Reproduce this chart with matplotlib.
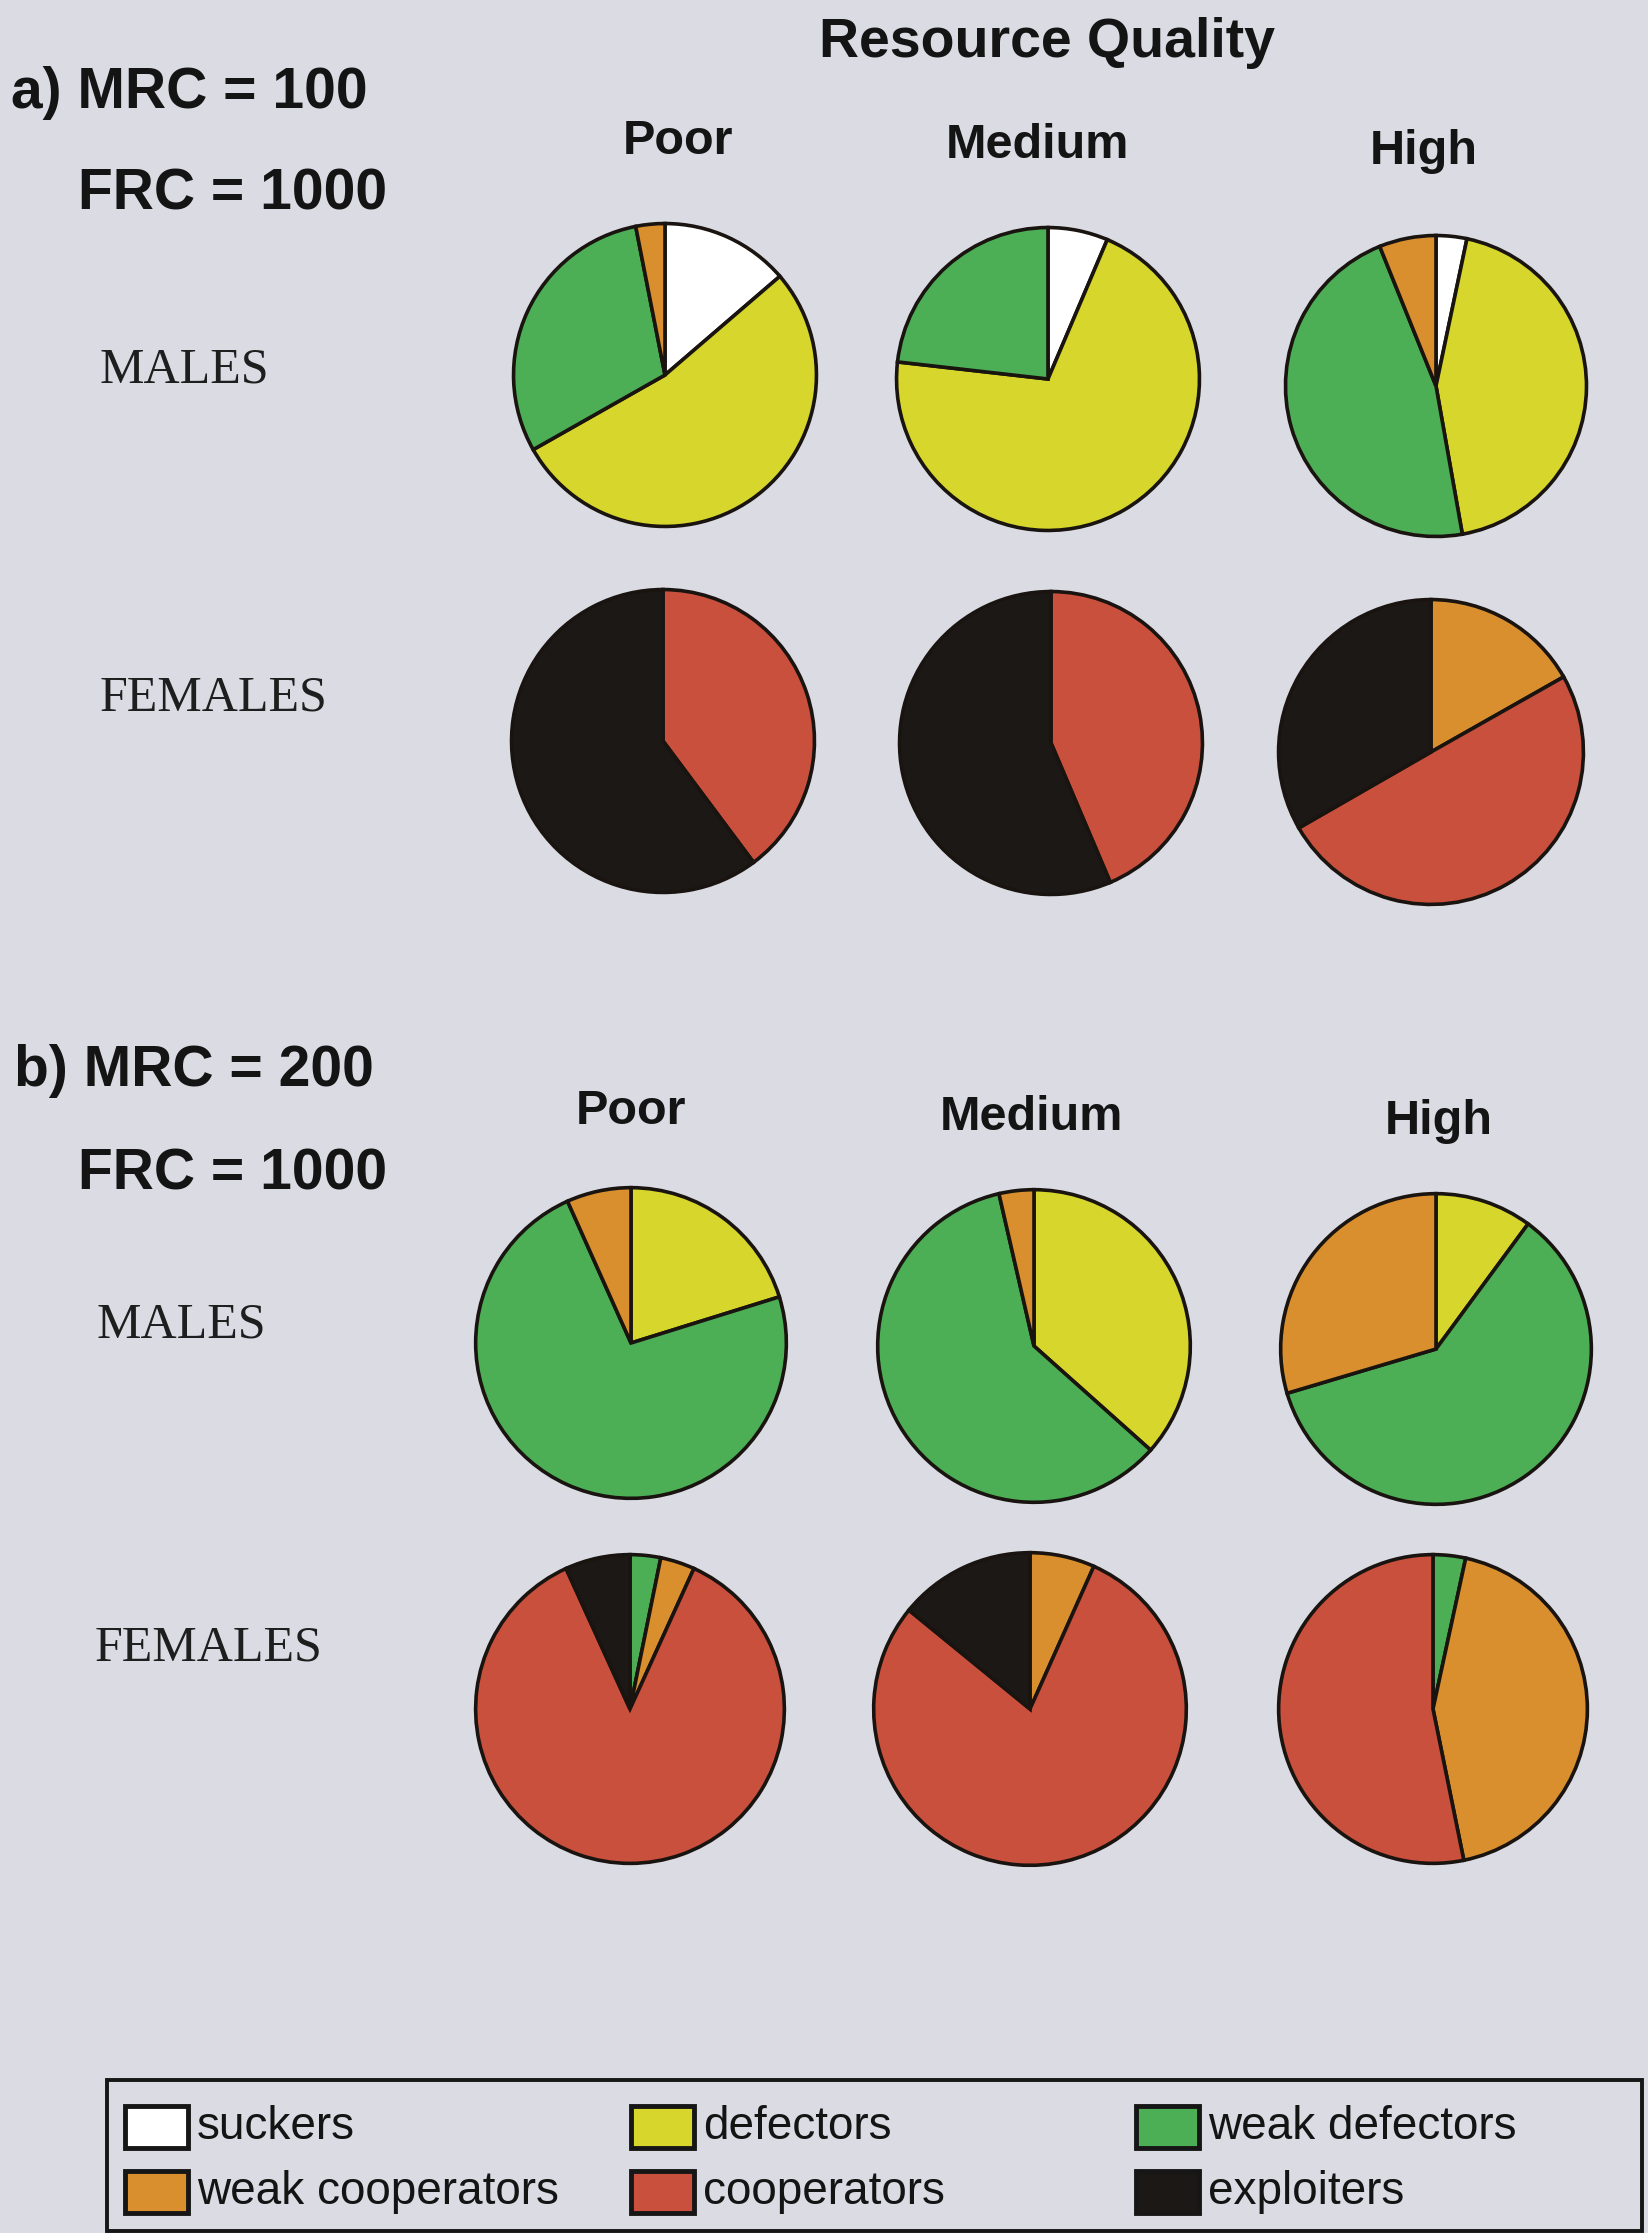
import matplotlib

matplotlib.use("Agg")
from matplotlib import pyplot as plt
from matplotlib.patches import Rectangle

W, H = 1648, 2233

categories = ["suckers", "defectors", "weak defectors",
              "weak cooperators", "cooperators", "exploiters"]
colors = ["#ffffff", "#d6d62c", "#4caf55", "#d98f2e", "#c9503c", "#1c1816"]

quality_labels = ["Poor", "Medium", "High"]

# shares (%) per category, in the order of `categories`
a_males_poor = [13.7, 53.1, 30.1, 3.1, 0, 0]
a_males_medium = [6.4, 70.4, 23.2, 0, 0, 0]
a_males_high = [3.3, 43.9, 46.7, 6.1, 0, 0]
a_females_poor = [0, 0, 0, 0, 39.8, 60.2]
a_females_medium = [0, 0, 0, 0, 43.6, 56.4]
a_females_high = [0, 0, 0, 16.8, 49.9, 33.3]

b_males_poor = [0, 20.2, 73.1, 6.7, 0, 0]
b_males_medium = [0, 36.6, 59.8, 3.6, 0, 0]
b_males_high = [0, 10.1, 60.3, 29.6, 0, 0]
b_females_poor = [0, 0, 3.2, 3.6, 86.4, 6.8]
b_females_medium = [0, 0, 0, 6.7, 79.2, 14.1]
b_females_high = [0, 0, 3.4, 43.4, 53.2, 0]

fig = plt.figure(figsize=(W / 100, H / 100), dpi=100, facecolor="#dadbe3")
bg = fig.add_axes([0, 0, 1, 1])
bg.set_xlim(0, W)
bg.set_ylim(H, 0)
bg.axis("off")

bold = dict(family="Liberation Sans", fontweight="bold", color="#141414")
serif = dict(family="Liberation Serif", color="#1e1e1e")


def draw_pie(values, cx, cy, r):
    ax = fig.add_axes([(cx - r) / W, 1 - (cy + r) / H, 2 * r / W, 2 * r / H])
    keep = [(v, c) for v, c in zip(values, colors) if v > 0]
    ax.pie([v for v, _ in keep], colors=[c for _, c in keep],
           startangle=90, counterclock=False, radius=1,
           wedgeprops=dict(edgecolor="#1a1410", linewidth=2.6))
    ax.set_xlim(-1.03, 1.03)
    ax.set_ylim(-1.03, 1.03)
    ax.axis("off")


# panel a
bg.text(1047, 43, "Resource Quality", ha="center", va="center", fontsize=40, **bold)
bg.text(11, 93, "a) MRC = 100", ha="left", va="center", fontsize=41, **bold)
bg.text(78, 195, "FRC = 1000", ha="left", va="center", fontsize=41, **bold)
for label, x, y in zip(quality_labels, [678, 1037, 1424], [142, 145, 152]):
    bg.text(x, y, label, ha="center", va="center", fontsize=35, **bold)
bg.text(100, 370, "MALES", ha="left", va="center", fontsize=36, **serif)
bg.text(100, 698, "FEMALES", ha="left", va="center", fontsize=36, **serif)

draw_pie(a_males_poor, 665, 375, 156)
draw_pie(a_males_medium, 1048, 379, 156)
draw_pie(a_males_high, 1436, 386, 155)
draw_pie(a_females_poor, 663, 741, 156)
draw_pie(a_females_medium, 1051, 743, 156)
draw_pie(a_females_high, 1431, 752, 157)

# panel b
bg.text(14, 1071, "b) MRC = 200", ha="left", va="center", fontsize=41, **bold)
bg.text(78, 1174, "FRC = 1000", ha="left", va="center", fontsize=41, **bold)
for label, x, y in zip(quality_labels, [631, 1031, 1439], [1112, 1117, 1121]):
    bg.text(x, y, label, ha="center", va="center", fontsize=35, **bold)
bg.text(97, 1325, "MALES", ha="left", va="center", fontsize=36, **serif)
bg.text(95, 1648, "FEMALES", ha="left", va="center", fontsize=36, **serif)

draw_pie(b_males_poor, 631, 1343, 160)
draw_pie(b_males_medium, 1034, 1346, 161)
draw_pie(b_males_high, 1436, 1349, 160)
draw_pie(b_females_poor, 630, 1709, 159)
draw_pie(b_females_medium, 1030, 1709, 161)
draw_pie(b_females_high, 1433, 1709, 159)

# legend box
bg.add_patch(Rectangle((107, 2080), 1535, 151, fill=False,
                       edgecolor="#161616", linewidth=2.8))
col_x = [125, 631, 1136]
row_y = [2127, 2192]
for i, (name, color) in enumerate(zip(categories, colors)):
    x = col_x[i % 3]
    y = row_y[i // 3]
    bg.add_patch(Rectangle((x, y - 21), 63, 42, facecolor=color,
                           edgecolor="#161616", linewidth=3.5))
    bg.text(x + 72, y, name, ha="left", va="center", fontsize=33,
            family="Liberation Sans", color="#141414")

fig.savefig("out.png", dpi=100, facecolor=fig.get_facecolor())
